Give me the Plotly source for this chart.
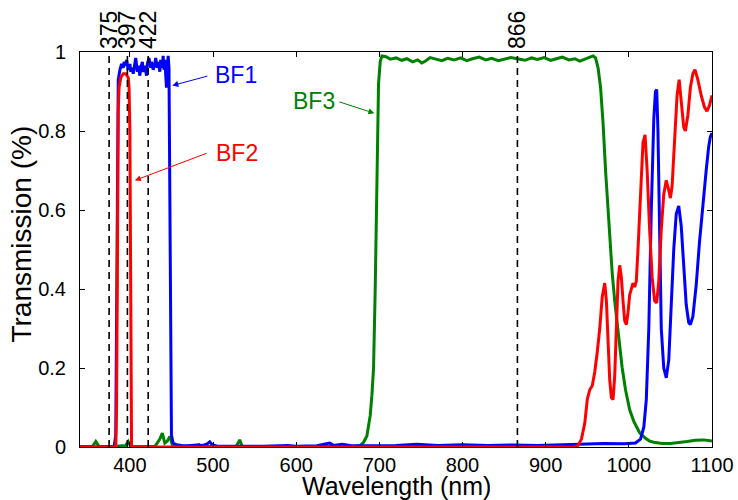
import plotly.graph_objects as go

# wavelength (nm), transmission pairs
bf1 = [(340, 0.0), (381, 0.0), (383, 0.03), (384, 0.4), (385, 0.8), (386, 0.93), (388, 0.955),
       (390, 0.97), (392, 0.96), (393, 0.975), (395, 0.965), (396, 0.98), (398, 0.955), (400, 0.97),
       (401, 0.95), (403, 0.96), (404, 0.945), (406, 0.97), (407, 0.985), (409, 0.95), (410, 0.965),
       (412, 0.94), (413, 0.96), (415, 0.975), (416, 0.95), (418, 0.965), (420, 0.94), (421, 0.97),
       (423, 0.985), (425, 0.96), (426, 0.975), (428, 0.955), (430, 0.97), (431, 0.985), (433, 0.96),
       (434, 0.975), (436, 0.95), (437, 0.98), (439, 0.96), (440, 0.99), (441, 0.955), (442, 0.98),
       (443, 0.93), (444, 0.91), (445, 0.95), (446, 0.99), (447, 0.96), (448, 0.6), (449, 0.15),
       (450, 0.03), (452, 0.01), (456, 0.006), (462, 0.004), (470, 0.003), (480, 0.005), (488, 0.004),
       (493, 0.008), (496, 0.013), (499, 0.006), (505, 0.002), (530, 0.002), (560, 0.002), (590, 0.004),
       (600, 0.002), (625, 0.003), (635, 0.007), (640, 0.01), (645, 0.004), (655, 0.007), (665, 0.004),
       (690, 0.003), (720, 0.004), (745, 0.007), (770, 0.004), (800, 0.006), (830, 0.004), (860, 0.005),
       (890, 0.004), (920, 0.006), (945, 0.008), (970, 0.009), (995, 0.008), (1008, 0.01), (1014, 0.02),
       (1018, 0.05), (1021, 0.12), (1024, 0.3), (1027, 0.6), (1030, 0.83), (1032, 0.9), (1033.5, 0.905),
       (1035, 0.8), (1037, 0.5), (1039, 0.3), (1042, 0.2), (1045, 0.175), (1048, 0.22), (1051, 0.35),
       (1054, 0.5), (1057, 0.59), (1060, 0.61), (1063, 0.56), (1066, 0.45), (1069, 0.36), (1072, 0.315),
       (1074, 0.31), (1077, 0.33), (1081, 0.41), (1085, 0.52), (1089, 0.62), (1093, 0.7), (1096, 0.76),
       (1098, 0.785), (1100, 0.795)]

bf2 = [(340, 0.0), (383, 0.0), (384, 0.1), (385, 0.6), (386, 0.85), (387, 0.91), (389, 0.935),
       (392, 0.945), (395, 0.945), (398, 0.935), (399, 0.91), (400, 0.8), (400.8, 0.3), (401.5, 0.02),
       (402, 0.0), (935, 0.0), (939, 0.004), (943, 0.02), (947, 0.06), (950, 0.12), (953, 0.145),
       (956, 0.155), (959, 0.19), (962, 0.24), (965, 0.3), (968, 0.38), (971, 0.415), (973, 0.37),
       (975, 0.26), (977, 0.17), (979, 0.125), (981, 0.12), (983, 0.18), (985, 0.3), (987, 0.42),
       (989, 0.46), (991, 0.43), (993, 0.37), (995, 0.32), (997, 0.31), (999, 0.34), (1001, 0.385),
       (1003, 0.4), (1005, 0.415), (1007, 0.405), (1009, 0.42), (1011, 0.5), (1013, 0.6), (1015, 0.7),
       (1017, 0.77), (1019.5, 0.79), (1022, 0.7), (1025, 0.55), (1028, 0.43), (1031, 0.37),
       (1033.5, 0.365), (1036, 0.42), (1039, 0.55), (1042, 0.64), (1045, 0.675), (1048, 0.65),
       (1050, 0.63), (1052, 0.66), (1055, 0.78), (1058, 0.89), (1060.5, 0.93), (1063, 0.88),
       (1066, 0.81), (1068, 0.8), (1071, 0.84), (1074, 0.91), (1077, 0.945), (1079.5, 0.955),
       (1083, 0.93), (1087, 0.89), (1091, 0.86), (1094, 0.85), (1097, 0.865), (1100, 0.89)]

bf3 = [(340, 0.001), (355, 0.001), (359, 0.014), (363, 0.001), (380, 0.001), (390, 0.002), (395, 0.004),
       (398, 0.014), (401, 0.002), (410, 0.001), (430, 0.001), (436, 0.02), (439, 0.035), (442, 0.01),
       (445, 0.015), (448, 0.027), (451, 0.006), (455, 0.002), (470, 0.001), (480, 0.002), (483, 0.006),
       (486, 0.001), (500, 0.001), (528, 0.002), (532, 0.018), (535, 0.001), (560, 0.001), (600, 0.001),
       (640, 0.001), (670, 0.001), (677, 0.004), (681, 0.012), (685, 0.028), (689, 0.08), (691, 0.13),
       (693, 0.2), (695, 0.4), (697, 0.7), (699, 0.92), (701, 0.975), (703, 0.99), (708, 0.988),
       (713, 0.982), (720, 0.985), (727, 0.979), (733, 0.983), (740, 0.975), (746, 0.98), (751, 0.972),
       (756, 0.978), (761, 0.986), (768, 0.982), (775, 0.978), (782, 0.984), (790, 0.98), (798, 0.985),
       (805, 0.978), (812, 0.983), (820, 0.987), (828, 0.98), (835, 0.984), (843, 0.978), (850, 0.982),
       (858, 0.986), (866, 0.983), (875, 0.979), (883, 0.985), (890, 0.981), (898, 0.986), (906, 0.979),
       (913, 0.983), (920, 0.987), (928, 0.98), (935, 0.983), (941, 0.977), (947, 0.982), (953, 0.988),
       (957, 0.99), (960, 0.985), (963, 0.96), (966, 0.91), (969, 0.82), (972, 0.7), (975, 0.6),
       (977, 0.53), (980, 0.44), (983, 0.37), (986, 0.31), (989, 0.25), (992, 0.2), (996, 0.145),
       (1001, 0.094), (1006, 0.065), (1013, 0.036), (1020, 0.022), (1025, 0.015), (1030, 0.012),
       (1040, 0.009), (1050, 0.009), (1060, 0.011), (1070, 0.014), (1080, 0.017), (1090, 0.018),
       (1100, 0.015)]

marker_lines = [375, 397, 422, 866]
x_ticks = [400, 500, 600, 700, 800, 900, 1000, 1100]
y_ticks = [0, 0.2, 0.4, 0.6, 0.8, 1]

FONT = "Liberation Sans, Arial, sans-serif"
BLUE, RED, GREEN = "#0000ff", "#ff0000", "#008000"

fig = go.Figure()

for wl in marker_lines:
    fig.add_trace(go.Scatter(x=[wl, wl], y=[0, 1], mode="lines", xaxis="x2",
                             line=dict(color="black", width=1.6, dash="7px,5px"),
                             showlegend=False, hoverinfo="skip"))

for data, color in [(bf3, GREEN), (bf1, BLUE), (bf2, RED)]:
    xs, ys = zip(*data)
    fig.add_trace(go.Scatter(x=xs, y=ys, mode="lines", line=dict(color=color, width=3),
                             showlegend=False))

axis_common = dict(showline=True, linecolor="black", linewidth=1, ticks="inside",
                   ticklen=5, tickcolor="black", showgrid=False, zeroline=False,
                   automargin=False, tickfont=dict(family=FONT, size=20, color="black"))

fig.update_layout(
    width=738, height=500,
    margin=dict(l=80, r=26, t=52, b=53),
    paper_bgcolor="white", plot_bgcolor="white",
    font=dict(family=FONT, color="black"),
    xaxis=dict(range=[340, 1100], tickvals=x_ticks, mirror="ticks", **axis_common),
    xaxis2=dict(range=[340, 1100], overlaying="x", side="top", tickvals=marker_lines,
                tickangle=-90, ticks="", showline=False, showgrid=False, zeroline=False,
                automargin=False, ticklabelstandoff=2,
                tickfont=dict(family=FONT, size=23, color="black")),
    yaxis=dict(range=[0, 1], tickvals=y_ticks, mirror="ticks", ticklabelstandoff=9,
               **axis_common),
)

# axis titles
fig.add_annotation(x=0.5, y=-0.14, xref="paper", yref="paper", text="Wavelength (nm)",
                   showarrow=False, xanchor="center", yanchor="bottom",
                   font=dict(family=FONT, size=25, color="black"))
fig.add_annotation(x=-0.092, y=0.54, xref="paper", yref="paper", text="Transmission (%)",
                   showarrow=False, textangle=-90, xanchor="center", yanchor="middle",
                   font=dict(family=FONT, size=28, color="black"))

arrows = [
    ("BF1", BLUE, 451, 0.915, 495, 0.94, 528, 0.942),
    ("BF2", RED, 406, 0.675, 494, 0.745, 529, 0.745),
    ("BF3", GREEN, 694, 0.845, 650, 0.875, 621, 0.875),
]
for text, color, x, y, ax, ay, tx, ty in arrows:
    fig.add_annotation(x=x, y=y, ax=ax, ay=ay, xref="x", yref="y", axref="x", ayref="y",
                       text="", showarrow=True, arrowhead=2, arrowsize=1.2, arrowwidth=1,
                       arrowcolor=color)
    fig.add_annotation(x=tx, y=ty, xref="x", yref="y", text=text, showarrow=False,
                       font=dict(family=FONT, size=23, color=color))

fig.write_html("out.html", config={"displayModeBar": False},
               post_script="document.body.style.margin = '0px';")
